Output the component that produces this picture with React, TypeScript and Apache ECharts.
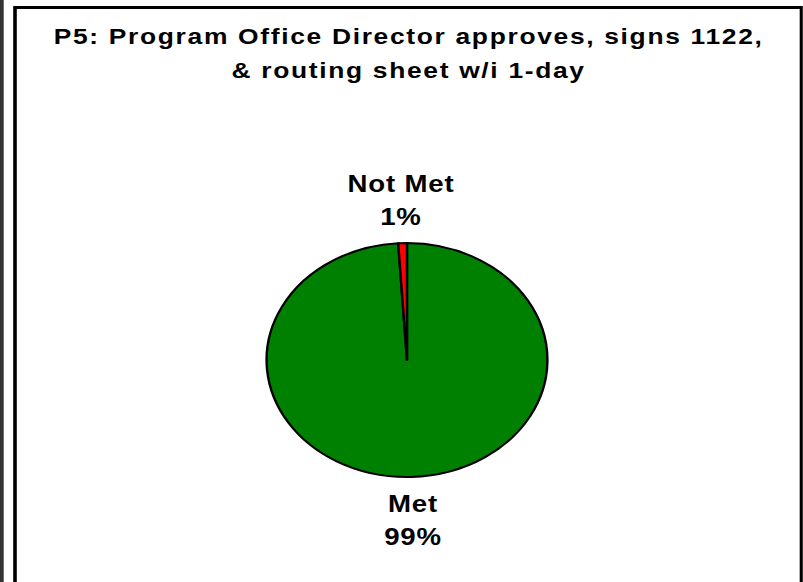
import React, { useEffect, useRef } from "react";
import * as echarts from "echarts";

// ---- data ----
const categories: string[] = ["Met", "Not Met"];
const values: number[] = [99, 1];
const sliceColors: string[] = ["#008000", "#FF0000"];
const titleLines: string[] = [
  "P5: Program Office Director approves, signs 1122,",
  "& routing sheet w/i 1-day",
];

const SX = 1.2; // horizontal stretch of the original picture
const W = 803;
const H = 582;
const FONT = '"Liberation Sans", Arial, sans-serif';

export default function App() {
  const ref = useRef<HTMLDivElement>(null);

  useEffect(() => {
    if (!ref.current) return;
    const chart = echarts.init(ref.current, undefined, { renderer: "svg" });
    const total = values.reduce((a, b) => a + b, 0);
    chart.setOption({
      animation: false,
      backgroundColor: "#ffffff",
      graphic: [
        {
          type: "rect",
          silent: true,
          shape: { x: 0, y: 0, width: 3.1, height: H },
          style: { fill: "#333333" },
        },
        {
          type: "rect",
          silent: true,
          shape: { x: 12.5, y: 7.5, width: 655.4, height: 640 },
          style: { fill: "none", stroke: "#000000", lineWidth: 3 },
        },
        {
          type: "text",
          silent: true,
          x: 408.6 / SX,
          y: 19.2,
          style: {
            text: titleLines.join("\n"),
            align: "center",
            verticalAlign: "top",
            fontFamily: FONT,
            fontWeight: "bold",
            fontSize: 22,
            lineHeight: 34,
            fill: "#000000",
          },
        },
      ],
      series: [
        {
          type: "pie",
          center: [407 / SX, 360],
          radius: 117,
          startAngle: 90,
          clockwise: true,
          avoidLabelOverlap: false,
          silent: true,
          itemStyle: { borderColor: "#000000", borderWidth: 2 },
          label: {
            show: true,
            position: "outside",
            distanceToLabelLine: 0,
            formatter: (p: any) =>
              `${p.name}\n${Math.round((p.value / total) * 100)}%`,
            fontFamily: FONT,
            fontWeight: "bold",
            fontSize: 23,
            lineHeight: 33,
            color: "#000000",
          },
          labelLine: { show: false, length: 43, length2: 0 },
          labelLayout: () => ({ align: "center" }),
          data: categories.map((c, i) => ({
            name: c,
            value: values[i],
            itemStyle: { color: sliceColors[i] },
          })),
        },
      ],
    });
    return () => chart.dispose();
  }, []);

  return (
    <div
      style={{
        position: "fixed",
        left: 0,
        top: 0,
        width: W,
        height: H,
        overflow: "hidden",
        background: "#ffffff",
      }}
    >
      <style>{`
        .stretched svg text[style*="22px"] { letter-spacing: 1.4px; }
        .stretched svg text[style*="23px"] { letter-spacing: 0.7px; }
      `}</style>
      <div
        className="stretched"
        ref={ref}
        style={{
          width: W / SX,
          height: H,
          transform: `scaleX(${SX})`,
          transformOrigin: "0 0",
        }}
      />
    </div>
  );
}
